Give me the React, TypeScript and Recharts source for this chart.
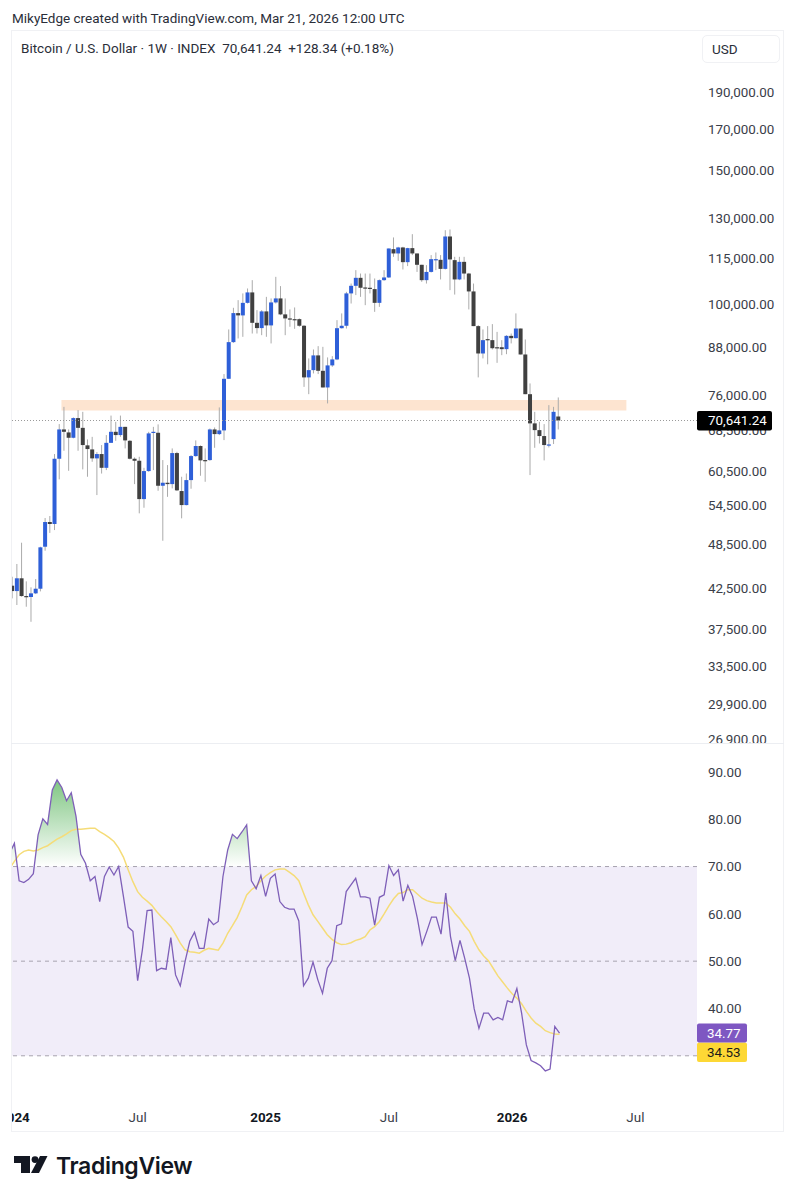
import React from 'react';
import { ComposedChart, Bar, Line, Area, XAxis, YAxis, ReferenceArea, ReferenceLine } from 'recharts';

const weeks = [
  '2023-12-25',
  '2024-01-01','2024-01-08','2024-01-15','2024-01-22','2024-01-29','2024-02-05','2024-02-12','2024-02-19','2024-02-26','2024-03-04','2024-03-11','2024-03-18','2024-03-25','2024-04-01','2024-04-08','2024-04-15','2024-04-22','2024-04-29','2024-05-06','2024-05-13','2024-05-20','2024-05-27','2024-06-03','2024-06-10','2024-06-17','2024-06-24','2024-07-01','2024-07-08','2024-07-15','2024-07-22','2024-07-29','2024-08-05','2024-08-12','2024-08-19','2024-08-26','2024-09-02','2024-09-09','2024-09-16','2024-09-23','2024-09-30','2024-10-07','2024-10-14','2024-10-21','2024-10-28','2024-11-04','2024-11-11','2024-11-18','2024-11-25','2024-12-02','2024-12-09','2024-12-16','2024-12-23','2024-12-30',
  '2025-01-06','2025-01-13','2025-01-20','2025-01-27','2025-02-03','2025-02-10','2025-02-17','2025-02-24','2025-03-03','2025-03-10','2025-03-17','2025-03-24','2025-03-31','2025-04-07','2025-04-14','2025-04-21','2025-04-28','2025-05-05','2025-05-12','2025-05-19','2025-05-26','2025-06-02','2025-06-09','2025-06-16','2025-06-23','2025-06-30','2025-07-07','2025-07-14','2025-07-21','2025-07-28','2025-08-04','2025-08-11','2025-08-18','2025-08-25','2025-09-01','2025-09-08','2025-09-15','2025-09-22','2025-09-29','2025-10-06','2025-10-13','2025-10-20','2025-10-27','2025-11-03','2025-11-10','2025-11-17','2025-11-24','2025-12-01','2025-12-08','2025-12-15','2025-12-22','2025-12-29',
  '2026-01-05','2026-01-12','2026-01-19','2026-01-26','2026-02-02','2026-02-09','2026-02-16','2026-02-23','2026-03-02','2026-03-09','2026-03-16','2026-03-23','2026-03-30','2026-04-06','2026-04-13','2026-04-20','2026-04-27','2026-05-04','2026-05-11','2026-05-18','2026-05-25','2026-06-01','2026-06-08','2026-06-15','2026-06-22','2026-06-29','2026-07-06','2026-07-13','2026-07-20','2026-07-27','2026-08-03','2026-08-10','2026-08-17','2026-08-24','2026-08-31','2026-09-07','2026-09-14','2026-09-21','2026-09-28','2026-10-05',
];

const opens = [
  42880,42190,43850,41560,41440,41900,42490,48240,51980,51670,
  62930,68760,68140,67050,71160,69090,65530,64730,63000,63830,
  61230,66030,68270,67600,69300,66440,62930,62550,55710,60630,
  68070,68070,58000,58530,58290,64020,57080,54710,59000,63440,
  65400,62680,62680,68760,67800,68560,80130,89520,97730,97050,
  100800,104030,94900,93400,98230,94160,100930,102160,97350,96170,
  95960,95960,94060,80470,82260,86000,82090,78060,83440,84960,
  93370,94060,103720,106130,108720,105600,105500,105080,100800,107960,
  108840,118560,117030,119170,113990,118930,117030,113090,107960,110680,
  114800,114800,111700,123190,114690,108190,114100,110140,104340,93960,
  86500,90340,90060,88150,88150,87640,91230,90600,93280,86240,
  76490,70030,68620,67400,65480,66780,71500,
];
const closes = [
  42190,43850,41560,41440,41900,42490,48150,51980,51670,62930,
  68760,68270,67050,71160,69090,65590,64800,63000,63830,61230,
  66030,68270,67600,69300,66520,62930,62550,55710,60630,67940,
  68270,58000,58530,58290,64020,57200,54710,59000,63440,65400,
  62620,62620,68760,67800,68560,80130,89520,97730,97050,100800,
  104030,94900,93400,98230,94160,100930,102160,97350,96170,95870,
  95760,94060,80470,82260,86000,82090,78060,83440,84960,93370,
  94060,103720,106130,108720,105500,105400,105280,100800,107960,108840,
  118800,117030,119170,113990,118930,117030,113090,107960,110680,115030,
  115030,111700,123190,114930,108190,114100,110140,104340,93960,86500,
  90060,90250,87890,87890,87640,91230,90600,93280,86240,76490,
  70030,68620,67400,65590,65710,72520,70641.24,
];
const highs = [
  44060,45790,48830,43450,42670,43750,48240,52610,52930,63830,
  69880,73620,68760,71310,72900,72520,66720,67240,64210,65590,
  67600,71700,70360,71700,69300,66580,63190,63310,61230,68270,
  69300,69820,62680,61740,64930,64270,59600,60190,63640,66520,
  65530,64930,68960,69170,73490,81280,93020,99310,101630,103720,
  105280,107960,98610,98610,102650,102160,109050,106030,102160,98820,
  99410,96170,94250,85220,87560,88440,88260,85480,85810,95670,
  97640,104210,106860,111270,110140,110140,110140,108510,108190,111270,
  118800,122840,119410,119410,119050,124060,117030,113090,112980,116450,
  117380,116450,125560,125820,115850,115850,115850,110360,106860,94250,
  93020,93960,94530,92340,90060,91420,91880,97640,93280,90250,
  79020,72520,70360,69880,74000,73620,75740,
];
const lows = [
  41270,40450,41480,40240,38450,41810,42150,47660,50300,50730,
  59130,64470,60680,66930,64470,60940,59600,62360,56390,60180,
  60810,66030,66440,67240,64930,62810,58290,53360,54270,60500,
  60810,57130,49120,56090,57540,57080,52560,54660,57480,63310,
  59780,58700,62550,65050,67600,66580,80130,89330,90520,90970,
  100600,91880,91880,91420,90970,89170,100600,97130,91420,93770,
  93190,93770,78200,76490,81440,81280,78060,74380,83080,84780,
  93280,93280,100600,103190,102650,100100,103720,98100,99590,107730,
  108720,115850,114450,111500,112640,116450,110680,107420,106860,110480,
  111270,108190,111500,104750,103360,107960,108190,98820,93960,80470,
  85220,83720,87560,84090,86060,86320,89170,90520,86240,76490,
  59900,65050,65900,62620,65120,65790,68760,
];

const rsiValues = [
  72.8,74.9,67.0,66.6,67.3,68.5,76.7,80.1,78.9,86.2,
  88.3,86.7,83.9,85.6,80.6,72.6,70.7,67.0,67.9,62.6,
  67.9,69.9,68.2,70.0,63.7,57.2,56.3,45.9,52.4,60.7,
  60.8,48.0,48.5,48.3,55.0,47.1,44.8,49.9,54.2,56.1,
  52.7,52.7,58.9,57.7,58.4,67.9,73.5,76.8,75.9,77.3,
  78.8,67.0,65.3,68.1,63.7,67.5,68.4,62.6,61.4,61.0,
  61.0,58.5,44.8,46.4,49.8,46.1,43.2,48.5,50.1,57.5,
  57.9,64.7,66.1,67.5,63.6,63.6,63.3,57.6,63.5,64.0,
  70.2,68.1,69.3,62.7,66.0,63.7,59.1,53.5,56.3,59.3,
  59.3,55.7,64.4,55.2,50.1,54.4,50.6,46.4,39.9,35.8,
  39.0,39.0,37.6,38.1,37.6,41.6,41.3,44.2,39.0,32.3,
  29.0,28.5,27.9,26.8,27.2,36.2,34.77,
];
const rsiMaValues = [
  69.6,71.1,72.5,73.2,73.5,73.3,73.5,74.0,74.4,75.1,
  75.8,76.3,76.9,77.6,77.9,77.9,78.0,78.1,78.1,77.4,
  76.8,76.1,75.3,73.9,72.0,69.3,66.8,64.7,63.5,62.7,
  61.8,60.5,59.4,58.4,57.3,55.6,53.8,52.4,52.0,51.9,
  51.7,52.3,52.7,52.5,52.3,53.8,55.9,57.5,59.2,61.5,
  64.0,65.1,65.8,67.0,68.0,68.7,69.3,69.5,69.5,68.8,
  68.1,67.0,64.4,61.9,59.8,58.4,57.0,55.6,54.6,53.9,
  53.5,53.6,53.9,54.4,54.7,55.2,56.6,57.3,58.4,60.0,
  61.7,63.2,64.3,64.5,65.1,65.1,64.2,63.3,62.8,62.5,
  62.3,62.3,62.3,61.4,60.0,58.9,57.5,56.3,54.2,52.4,
  51.1,50.1,48.5,46.9,45.6,44.3,43.1,42.2,41.0,39.4,
  38.0,36.9,36.2,35.3,34.9,34.6,34.53,
];

const priceTicks = [190000,170000,150000,130000,115000,100000,88000,76000,68500,60500,54500,48500,42500,37500,33500,29900,26900];
const lastPrice = 70641.24;
const zoneTop = 75130;
const zoneBottom = 72800;
const zoneFrom = '2024-03-11';
const zoneTo = '2026-06-22';
const rsiTicks = [90,80,70,60,50,40];
const rsiLast = 34.77;
const rsiMaLast = 34.53;
const rsiLevels = [70,50,30];
const timeTicks = ['2024-01-01','2024-07-01','2025-01-06','2025-07-07','2026-01-05','2026-07-06'];
const timeLabels = ['2024','Jul','2025','Jul','2026','Jul'];

const FONT = 'Roboto, sans-serif';
const UP = '#2e5fd8';
const DOWN = '#404040';
const WICK = '#ababab';
const TEXT = '#3a3e49';

const priceRows = weeks.map((week, i) =>
  i < opens.length
    ? { week, open: opens[i], close: closes[i], high: highs[i], low: lows[i], range: [lows[i], highs[i]] }
    : { week },
);
const rsiRows = weeks.map((week, i) =>
  i < rsiValues.length ? { week, rsi: rsiValues[i], ma: rsiMaValues[i] } : { week },
);

function Candle(props: any) {
  const { x, y, width, height, payload } = props;
  if (!payload || payload.open === undefined || !height) return null;
  const span = Math.log(payload.high / payload.low);
  const at = (p: number) => y + (height * Math.log(payload.high / p)) / span;
  const cx = x + width / 2;
  const top = at(Math.max(payload.open, payload.close));
  const bottom = at(Math.min(payload.open, payload.close));
  const up = payload.close >= payload.open;
  return (
    <g>
      <rect x={cx - 0.5} y={y} width={1} height={height} fill={WICK} />
      <rect x={cx - 2} y={top} width={4} height={Math.max(bottom - top, 1.2)} fill={up ? UP : DOWN} />
    </g>
  );
}

function fmt(v: number) {
  return v.toLocaleString('en-US', { minimumFractionDigits: 2, maximumFractionDigits: 2 });
}

function PriceTick(props: any) {
  const { x, y, payload } = props;
  if (payload.value === lastPrice) {
    return (
      <g>
        <rect x={x} y={y - 9.5} width={75} height={19.5} rx={2} fill="#000" />
        <text x={x + 11} y={y} dy="0.36em" fontFamily={FONT} fontSize={13.4} fill="#fff">{fmt(payload.value)}</text>
      </g>
    );
  }
  return <text x={x + 11} y={y} dy="0.29em" fontFamily={FONT} fontSize={13.4} fill={TEXT}>{fmt(payload.value)}</text>;
}

function RsiTick(props: any) {
  const { x, y, payload } = props;
  if (payload.value === rsiLast) {
    return (
      <g>
        <rect x={x} y={y - 9.8} width={50} height={19} rx={2} fill="#7e57c2" />
        <text x={x + 10} y={y} dy="0.36em" fontFamily={FONT} fontSize={13.4} fill="#fff">{fmt(payload.value)}</text>
      </g>
    );
  }
  if (payload.value === rsiMaLast) {
    return (
      <g transform="translate(0,18)">
        <rect x={x} y={y - 9.8} width={50} height={19.5} rx={2} fill="#fdd835" />
        <text x={x + 10} y={y} dy="0.36em" fontFamily={FONT} fontSize={13.4} fill="#1a1a1a">{fmt(payload.value)}</text>
      </g>
    );
  }
  return <text x={x + 11} y={y} dy="0.36em" fontFamily={FONT} fontSize={13.4} fill={TEXT}>{fmt(payload.value)}</text>;
}

function TimeTick(props: any) {
  const { x, y, payload } = props;
  const label = timeLabels[timeTicks.indexOf(payload.value)];
  const isYear = /^\d/.test(label);
  return (
    <text x={x} y={y + 17} textAnchor="middle" fontFamily={FONT} fontSize={13.4} fontWeight={isYear ? 700 : 400} fill={isYear ? '#131722' : TEXT}>
      {label}
    </text>
  );
}

const box = (left: number, top: number, width: number, height: number): React.CSSProperties => ({
  position: 'absolute', left, top, width, height,
});

export default function App() {
  return (
    <div style={{ position: 'absolute', left: 0, top: 0, width: 796, height: 1200, background: '#fff', fontFamily: FONT, overflow: 'hidden' }}>
      <div style={{ ...box(12, 9, 500, 18), fontSize: 13.5, lineHeight: '18px', color: '#2a2e39', whiteSpace: 'nowrap' }}>
        MikyEdge created with TradingView.com, Mar 21, 2026 12:00 UTC
      </div>

      <div style={box(0, 0, 796, 743)}>
        <ComposedChart width={796} height={743} data={priceRows} margin={{ top: 37, right: 0, bottom: 0, left: 9.65 }} barCategoryGap={0}>
          <XAxis dataKey="week" type="category" hide />
          <YAxis
            orientation="right"
            width={99}
            scale="log"
            domain={[26657, 225100]}
            allowDataOverflow
            ticks={[...priceTicks, lastPrice]}
            interval={0}
            axisLine={false}
            tickLine={false}
            tickSize={0}
            tickMargin={0}
            tick={<PriceTick />}
          />
          <ReferenceArea x1={zoneFrom} x2={zoneTo} y1={zoneBottom} y2={zoneTop} fill="#fde4d0" fillOpacity={1} stroke="none" />
          <ReferenceLine y={lastPrice} stroke="#9a9a9a" strokeWidth={1} strokeDasharray="1 2" />
          <Bar dataKey="range" shape={<Candle />} isAnimationActive={false} />
        </ComposedChart>
      </div>

      <div style={{ ...box(0, 743, 796, 389), background: '#fff' }}>
        <ComposedChart width={796} height={389} data={rsiRows} margin={{ top: 1, right: 0, bottom: 0, left: 9.65 }}>
          <defs>
            <linearGradient id="rsiGlow" gradientUnits="userSpaceOnUse" x1="0" y1="36" x2="0" y2="124">
              <stop offset="0%" stopColor="#4caf50" stopOpacity={0.72} />
              <stop offset="100%" stopColor="#4caf50" stopOpacity={0} />
            </linearGradient>
          </defs>
          <XAxis
            dataKey="week"
            type="category"
            height={27}
            ticks={timeTicks}
            interval={0}
            axisLine={false}
            tickLine={false}
            tickSize={0}
            tickMargin={0}
            tick={<TimeTick />}
          />
          <YAxis
            orientation="right"
            width={99}
            domain={[19.6, 95.9]}
            allowDataOverflow
            ticks={[...rsiTicks, rsiMaLast, rsiLast]}
            interval={0}
            axisLine={false}
            tickLine={false}
            tickSize={0}
            tickMargin={0}
            tick={<RsiTick />}
          />
          <ReferenceArea y1={30} y2={70} fill="#f1edf9" fillOpacity={1} stroke="none" />
          {rsiLevels.map((level) => (
            <ReferenceLine key={level} y={level} stroke="#a7a3af" strokeWidth={1} strokeDasharray="4 4" />
          ))}
          <Area dataKey="rsi" baseValue={70} stroke="none" fill="url(#rsiGlow)" fillOpacity={1} isAnimationActive={false} dot={false} activeDot={false} />
          <Line dataKey="ma" stroke="#f5dc78" strokeWidth={1.5} dot={false} activeDot={false} isAnimationActive={false} />
          <Line dataKey="rsi" stroke="#7e5fb8" strokeWidth={1.3} dot={false} activeDot={false} isAnimationActive={false} />
        </ComposedChart>
      </div>

      <div style={{ ...box(0, 31, 11, 1101), background: '#fff' }} />
      <div style={{ ...box(11, 30, 773, 1102), border: '1px solid #f0f1f4', boxSizing: 'border-box', pointerEvents: 'none' }} />
      <div style={{ ...box(11, 743, 773, 1), background: '#eceef2' }} />

      <div style={{ ...box(21, 39, 500, 18), fontSize: 13.5, lineHeight: '18px', color: '#2a2e39', whiteSpace: 'nowrap' }}>
        Bitcoin / U.S. Dollar · 1W · INDEX&nbsp; 70,641.24&nbsp; +128.34 (+0.18%)
      </div>
      <div style={{ ...box(702, 35, 78, 28), border: '1px solid #f0f1f4', borderRadius: 5, boxSizing: 'border-box', background: '#fff', fontSize: 13.5, lineHeight: '26px', paddingLeft: 9, color: '#2a2e39' }}>
        USD
      </div>

      <svg style={box(14, 1156, 34, 18)} viewBox="0 0 34 18">
        <path d="M0 0H16V17H7V7H0Z" fill="#131722" />
        <circle cx="21" cy="3.6" r="3.4" fill="#131722" />
        <path d="M26 0H33.5L25 17H17Z" fill="#131722" />
      </svg>
      <div style={{ ...box(56, 1151, 150, 30), fontFamily: 'Inter, sans-serif', fontWeight: 600, fontSize: 23, lineHeight: '30px', letterSpacing: -0.35, color: '#131722', whiteSpace: 'nowrap' }}>
        TradingView
      </div>
    </div>
  );
}
